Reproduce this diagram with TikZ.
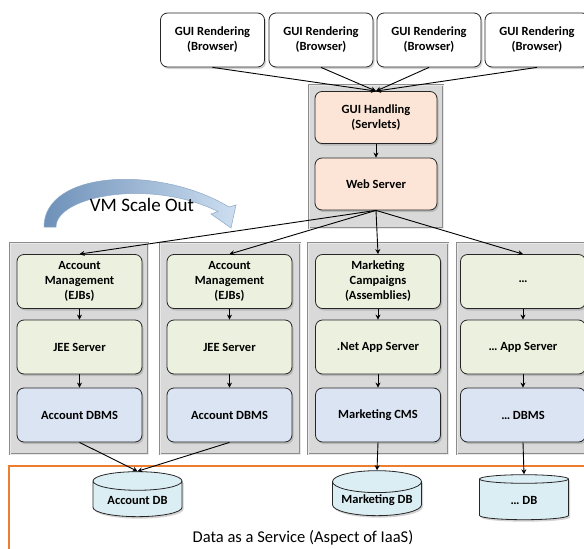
\documentclass[tikz,border=0pt]{standalone}
\usepackage{fontspec}
\setmainfont{Carlito}
\usetikzlibrary{shapes.geometric,shadows,arrows.meta}

\definecolor{vmgray}{RGB}{217,217,217}
\definecolor{vmline}{RGB}{140,140,140}
\definecolor{webfill}{RGB}{252,229,214}
\definecolor{appfill}{RGB}{235,241,222}
\definecolor{dbmsfill}{RGB}{219,228,243}
\definecolor{dbfill}{RGB}{219,238,244}
\definecolor{daasorange}{RGB}{237,125,49}
\definecolor{scaleblue}{RGB}{110,145,185}
\definecolor{scalelight}{RGB}{205,222,240}

\begin{document}
\begin{tikzpicture}[x=1pt,y=-1pt,
    box/.style={draw=black!85, line width=0.8pt, rounded corners=7pt, align=center,
      inner sep=1pt, font=\fontsize{12.5}{15}\selectfont\bfseries,
      drop shadow={opacity=0.35, shadow xshift=1.5pt, shadow yshift=-2pt}},
    browser/.style={box, fill=white, minimum width=104pt, minimum height=54pt},
    webbox/.style={box, fill=webfill, minimum width=122pt, minimum height=52pt},
    appbox/.style={box, fill=appfill, minimum width=125pt, minimum height=54pt},
    dbmsbox/.style={box, fill=dbmsfill, minimum width=125pt, minimum height=54pt},
    vm/.style={draw=vmline, double=vmgray!60!white, double distance=0.6pt, fill=vmgray,
      line width=0.6pt, minimum width=138pt, minimum height=211pt, inner sep=0pt},
    db/.style={cylinder, shape border rotate=90, aspect=0.3, draw=black!85, line width=0.8pt,
      fill=dbfill, minimum width=89pt, minimum height=45pt, inner sep=1pt,
      font=\fontsize{12.5}{15}\selectfont\bfseries,
      drop shadow={opacity=0.35, shadow xshift=1.5pt, shadow yshift=-2pt}},
    link/.style={line width=0.9pt, -{Stealth[length=5pt,width=5pt]}}]
  \useasboundingbox (0,0) rectangle (584,549);

  % data layer
  \draw[daasorange, line width=1.5pt] (9,466) rectangle (600,570);
  \node[font=\fontsize{16.5}{18}\selectfont] (daas) at (303,538) {Data as a Service (Aspect of IaaS)};

  % browsers
  \node[browser] (b1) at (212.5,40) {GUI Rendering\\(Browser)};
  \node[browser] (b2) at (321,40) {GUI Rendering\\(Browser)};
  \node[browser] (b3) at (429,40) {GUI Rendering\\(Browser)};
  \node[browser] (b4) at (537,40) {GUI Rendering\\(Browser)};

  % web tier
  \node[vm, minimum width=134pt, minimum height=143pt] (webvm) at (376,156.5) {};
  \node[webbox] (gui) at (376,117.5) {GUI Handling\\(Servlets)};
  \node[webbox] (web) at (376,184) {Web Server};

  % application VMs
  \node[vm] (vm1) at (79,348.5) {};
  \node[vm, minimum width=140pt] (vm2) at (230,348.5) {};
  \node[vm, minimum width=140pt] (vm3) at (378,348.5) {};
  \node[vm] (vm4) at (526,348.5) {};

  \node[appbox] (app1) at (79.5,281.5) {Account\\Management\\(EJBs)};
  \node[appbox] (srv1) at (79.5,347) {JEE Server};
  \node[dbmsbox] (dbms1) at (79.5,415) {Account DBMS};

  \node[appbox] (app2) at (229.5,281.5) {Account\\Management\\(EJBs)};
  \node[appbox] (srv2) at (229.5,347) {JEE Server};
  \node[dbmsbox] (dbms2) at (229.5,415) {Account DBMS};

  \node[appbox] (app3) at (378,281.5) {Marketing\\Campaigns\\(Assemblies)};
  \node[appbox] (srv3) at (378,347) {.Net App Server};
  \node[dbmsbox] (dbms3) at (378,415) {Marketing CMS};

  \node[appbox] (app4) at (523,281.5) {\dots};
  \node[appbox] (srv4) at (523,347) {\dots\ App Server};
  \node[dbmsbox] (dbms4) at (523,415) {\dots\ DBMS};

  % databases
  \node[db] (adb) at (137.5,500) {Account DB};
  \node[db] (mdb) at (377,500) {Marketing DB};
  \node[db] (xdb) at (524,500) {\dots\ DB};

  % scale out arrow
  \shade[left color=scaleblue, right color=scalelight, draw=scaleblue!80, line width=0.5pt]
    (44,227) -- (56,227) .. controls (56,196) and (150,178) .. (218,211.5)
    -- (211,214) -- (231,228) -- (236,205) -- (229,207)
    .. controls (160,165) and (44,170) .. (44,227) -- cycle;
  \node[font=\fontsize{19}{20}\selectfont] (scale) at (142,205) {VM Scale Out};

  % connections
  \draw[link] (b1.south) -- (gui.north);
  \draw[link] (b2.south) -- (gui.north);
  \draw[link] (b3.south) -- (gui.north);
  \draw[link] (b4.south) -- (gui.north);
  \draw[link] (gui) -- (web);
  \draw[link] (web.south) -- (app1.north);
  \draw[link] (web.south) -- (app2.north);
  \draw[link] (web.south) -- (app3.north);
  \draw[link] (web.south) -- (app4.north);
  \draw[link] (app1) -- (srv1);
  \draw[link] (srv1) -- (dbms1);
  \draw[link] (app2) -- (srv2);
  \draw[link] (srv2) -- (dbms2);
  \draw[link] (app3) -- (srv3);
  \draw[link] (srv3) -- (dbms3);
  \draw[link] (app4) -- (srv4);
  \draw[link] (srv4) -- (dbms4);
  \draw[link] (dbms1.south) -- (adb.north);
  \draw[link] (dbms2.south) -- (adb.north);
  \draw[link] (dbms3.south) -- (mdb.north);
  \draw[link] (dbms4.south) -- (xdb.north);
\end{tikzpicture}
\end{document}
